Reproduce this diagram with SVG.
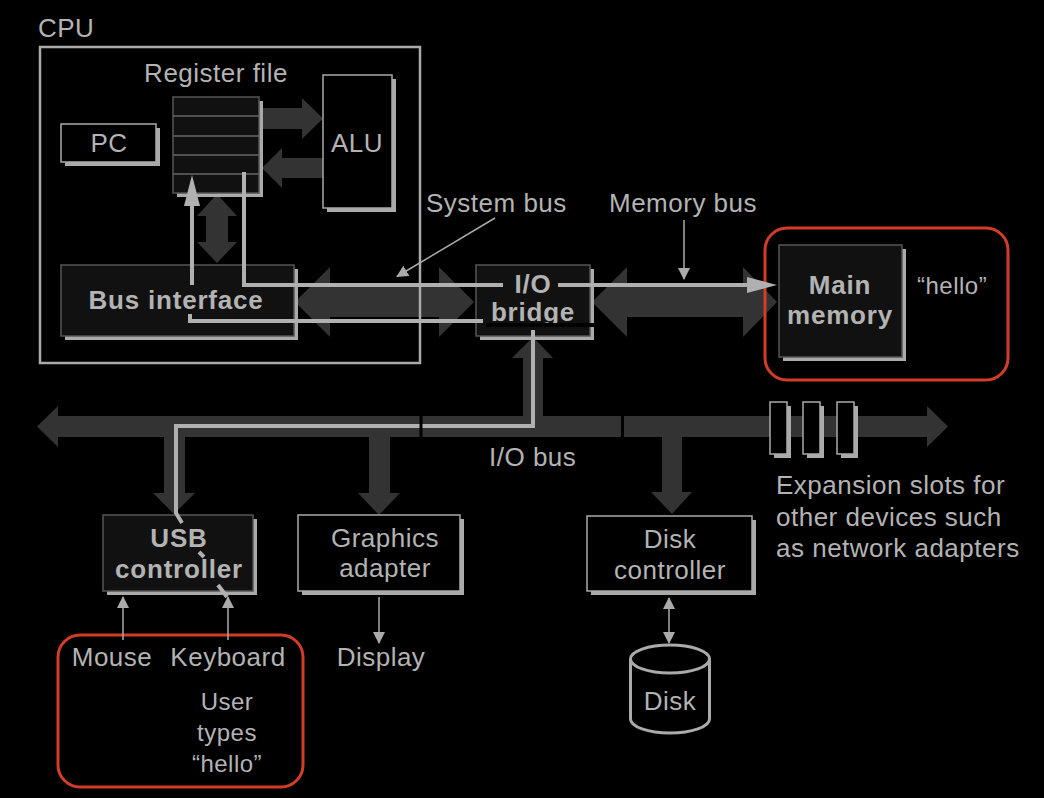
<svg xmlns="http://www.w3.org/2000/svg" width="1044" height="798" viewBox="0 0 1044 798">
<defs>
<marker id="ah" viewBox="0 0 12 12" refX="11" refY="6" markerWidth="12" markerHeight="12" markerUnits="userSpaceOnUse" orient="auto-start-reverse">
<path d="M0,0 L12,6 L0,12 z" fill="#aaaaaa"/>
</marker>
</defs>
<style>
text{font-family:"Liberation Sans",Arial,Helvetica,sans-serif;fill:#b3b3b3;font-size:26px;letter-spacing:0.5px}
.b{font-weight:bold;letter-spacing:0.8px}
.m{text-anchor:middle}
.s24{font-size:24px}
.bus{fill:#333333}
.shadow{fill:#aaaaaa}
.solid{fill:#111111;stroke:#555555;stroke-width:1.5}
.outline{fill:#000000;stroke:#aaaaaa;stroke-width:1.5}
.path{fill:none;stroke:#b0b0b0;stroke-width:4}
.thin{fill:none;stroke:#aaaaaa;stroke-width:1.5}
.red{fill:none;stroke:#d13d26;stroke-width:3}
.sep{stroke:#000000;stroke-width:3}
</style>
<rect width="1044" height="798" fill="#000000"/>

<g id="connectors">
<polygon class="bus" points="295,302 330,267 330,287 439,287 439,267 474,302 439,337 439,317 330,317 330,337"/>
<polygon class="bus" points="592,302 627,267 627,287 743,287 743,267 777,302 743,337 743,317 627,317 627,337"/>
<polygon class="bus" points="37,426.5 58,406 58,416 927,416 927,406 948,426.5 927,447 927,437 58,437 58,447"/>
<polygon class="bus" points="164,436 185,436 185,493 195,493 174,514 153,493 164,493"/>
<polygon class="bus" points="369,436 390,436 390,493 400,493 379,515 358,493 369,493"/>
<polygon class="bus" points="662,436 682,436 682,492 692,492 672,514 651,492 662,492"/>
<polygon class="bus" points="523,417 523,358 512,358 533,337 553,358 543,358 543,417"/>
<polygon class="bus" points="260,108 302,108 302,98 323,118.5 302,139 302,129 260,129"/>
<polygon class="bus" points="323,158 282,158 282,148 262,168 282,188 282,178 323,178"/>
<polygon class="bus" points="217,194 237,216 228,216 228,242 237,242 217,263 197,242 206,242 206,216 197,216"/>
</g>

<g id="cpu">
<rect x="40" y="47" width="380" height="316" fill="none" stroke="#aaaaaa" stroke-width="2.5"/>
<text x="38" y="37">CPU</text>
</g>

<g id="register-file">
<rect class="shadow" x="177" y="101" width="86" height="96"/>
<rect class="solid" x="173" y="97" width="86" height="96"/>
<path d="M173,116 H259 M173,136 H259 M173,155 H259 M173,174 H259" stroke="#666666" stroke-width="1.5"/>
<text class="m" x="216" y="82">Register file</text>
</g>

<g id="pc">
<rect class="shadow" x="65" y="128" width="95" height="38"/>
<rect class="outline" x="61" y="124" width="95" height="38"/>
<text class="m" x="109" y="152">PC</text>
</g>

<g id="alu">
<rect class="shadow" x="327" y="79" width="69" height="133"/>
<rect class="outline" x="323" y="75" width="69" height="133"/>
<text class="m" x="357" y="152">ALU</text>
</g>

<g id="bus-interface">
<rect class="shadow" x="65" y="269" width="233" height="71"/>
<rect class="solid" x="61" y="265" width="233" height="71"/>
<text class="m b" x="176" y="309">Bus interface</text>
</g>

<g id="io-bridge">
<rect class="shadow" x="480" y="269" width="114" height="71"/>
<rect class="solid" x="476" y="265" width="114" height="71"/>
<text class="m b" x="533" y="293">I/O</text>
<text class="m b" x="533" y="321">bridge</text>
</g>

<g id="main-memory">
<rect class="shadow" x="783" y="249" width="123" height="112"/>
<rect class="solid" x="779" y="245" width="123" height="112"/>
<text class="m b" x="840" y="294">Main</text>
<text class="m b" x="840" y="324">memory</text>
<text class="s24" x="917" y="294">“hello”</text>
<rect class="red" x="765" y="228" width="243" height="152" rx="22"/>
</g>

<g id="usb-controller">
<rect class="shadow" x="107" y="519" width="150" height="76"/>
<rect class="solid" x="103" y="515" width="150" height="76"/>
<text class="m b" x="179" y="547">USB</text>
<text class="m b" x="179" y="578">controller</text>
</g>

<g id="graphics-adapter">
<rect class="shadow" x="302" y="519" width="162" height="76"/>
<rect class="outline" x="298" y="515" width="162" height="76"/>
<text class="m" x="385" y="547">Graphics</text>
<text class="m" x="385" y="577">adapter</text>
</g>

<g id="disk-controller">
<rect class="shadow" x="591" y="520" width="165" height="75"/>
<rect class="outline" x="587" y="516" width="165" height="75"/>
<text class="m" x="670" y="548">Disk</text>
<text class="m" x="670" y="579">controller</text>
</g>

<g id="expansion-slots">
<rect class="shadow" x="774" y="406" width="17" height="52"/>
<rect class="outline" x="770" y="402" width="17" height="52"/>
<rect class="shadow" x="807" y="406" width="17" height="52"/>
<rect class="outline" x="803" y="402" width="17" height="52"/>
<rect class="shadow" x="841" y="406" width="17" height="52"/>
<rect class="outline" x="837" y="402" width="17" height="52"/>
<text x="776" y="494">Expansion slots for</text>
<text x="776" y="526">other devices such</text>
<text x="776" y="557">as network adapters</text>
</g>

<g id="disk">
<path d="M630.5,659 V719 A39.5,14 0 0 0 709.5,719 V659" fill="#000000" stroke="#aaaaaa" stroke-width="3"/>
<ellipse cx="670" cy="659" rx="39.5" ry="14" fill="#000000" stroke="#aaaaaa" stroke-width="3"/>
<text class="m" x="670" y="710">Disk</text>
</g>

<g id="user-input">
<text class="m" x="112" y="666">Mouse</text>
<text class="m" x="228" y="666">Keyboard</text>
<text class="m s24" x="227" y="710">User</text>
<text class="m s24" x="227" y="741">types</text>
<text class="m s24" x="227" y="772">“hello”</text>
<rect class="red" x="58" y="635" width="245" height="152" rx="22"/>
</g>

<g id="display">
<text class="m" x="381" y="666">Display</text>
</g>

<g id="labels">
<text x="426" y="212">System bus</text>
<text x="609" y="212">Memory bus</text>
<text x="489" y="466">I/O bus</text>
</g>

<g id="data-paths">
<path class="path" d="M244,172 V285 H503 M558,285 H748"/>
<polygon points="747,277 777,285 747,293" fill="#b0b0b0"/>
<path class="path" d="M192,285 V205"/>
<polygon points="184,206 192,175 200,206" fill="#b0b0b0"/>
<path class="path" d="M190,314 V321 H483 M533,330 V426 H176 V513 L182,523 M199,552 L204,557 M218,585 L227,597"/>
<line class="sep" x1="421" y1="415" x2="421" y2="438"/>
<line class="sep" x1="622.5" y1="415" x2="622.5" y2="438"/>
<line x1="486" y1="325" x2="594" y2="325" stroke="#000000" stroke-width="4"/>
</g>

<g id="pointers">
<line class="thin" x1="495" y1="218" x2="397" y2="276.5" marker-end="url(#ah)"/>
<line class="thin" x1="684" y1="220" x2="684" y2="279" marker-end="url(#ah)"/>
<line class="thin" x1="123" y1="640" x2="123" y2="597" marker-end="url(#ah)"/>
<line class="thin" x1="228" y1="640" x2="228" y2="597" marker-end="url(#ah)"/>
<line class="thin" x1="379" y1="597" x2="379" y2="643" marker-end="url(#ah)"/>
<line class="thin" x1="669" y1="598" x2="669" y2="643" marker-start="url(#ah)" marker-end="url(#ah)"/>
</g>
</svg>
